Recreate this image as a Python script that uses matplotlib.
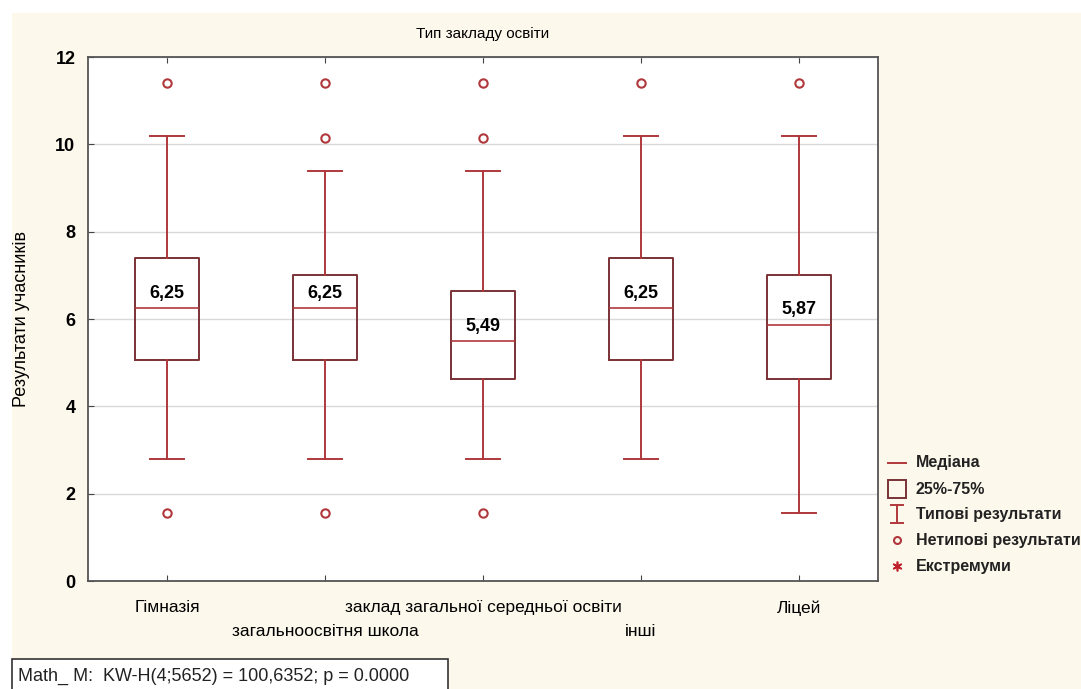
import numpy as np
import matplotlib
matplotlib.use('Agg')
import matplotlib.pyplot as plt
from matplotlib.patches import Rectangle
from matplotlib.lines import Line2D

plt.rcParams['font.family'] = ['Liberation Sans', 'DejaVu Sans']

# Дані
categories = ['Гімназія', 'загальноосвітня школа', 'заклад загальної середньої освіти', 'інші', 'Ліцей']
whis_low = [2.8, 2.8, 2.8, 2.8, 1.55]
q1 = [5.07, 5.07, 4.63, 5.07, 4.63]
medians = [6.25, 6.25, 5.49, 6.25, 5.87]
q3 = [7.4, 7.0, 6.63, 7.4, 7.0]
whis_high = [10.2, 9.4, 9.4, 10.2, 10.2]
outliers = [[11.4, 1.55], [11.4, 10.15, 1.55], [11.4, 10.15, 1.55], [11.4], [11.4]]
y_ticks = [0, 2, 4, 6, 8, 10, 12]

red = '#b0383c'
dark = '#7a3236'
cream = '#fdf8ec'

fig = plt.figure(figsize=(10.81, 6.89), dpi=100)
fig.patch.set_facecolor('white')

# фон і легенда в піксельних координатах
bg = fig.add_axes([0, 0, 1, 1])
bg.set_xlim(0, 1081)
bg.set_ylim(689, 0)
bg.axis('off')
bg.set_zorder(-1)
bg.add_patch(Rectangle((12, 13), 1081, 689, facecolor=cream, edgecolor='none'))

ax = fig.add_axes([88 / 1081, 108 / 689, 790 / 1081, 524 / 689])
ax.set_facecolor('white')

stats = []
for i in range(len(categories)):
    stats.append(dict(whislo=whis_low[i], q1=q1[i], med=medians[i], q3=q3[i],
                      whishi=whis_high[i], fliers=outliers[i]))

ax.bxp(stats, positions=range(len(categories)), widths=0.4, showfliers=True,
       boxprops=dict(color=dark, linewidth=1.4),
       whiskerprops=dict(color=red, linewidth=1.4),
       capprops=dict(color=red, linewidth=1.4),
       medianprops=dict(color=red, linewidth=1.2),
       flierprops=dict(marker='o', markerfacecolor='none', markeredgecolor=red,
                       markersize=6, markeredgewidth=1.5),
       capwidths=0.21, zorder=3)

for i, m in enumerate(medians):
    ax.text(i, m + 0.34, f'{m:.2f}'.replace('.', ','), ha='center', va='center',
            fontsize=13, fontweight='bold', zorder=4)

ax.set_xlim(-0.5, len(categories) - 0.5)
ax.set_ylim(0, 12)
ax.set_yticks(y_ticks)
ax.set_yticklabels([str(t) for t in y_ticks], fontsize=13, fontweight='bold')
ax.yaxis.grid(True, color='#d9d9d9', linewidth=1, zorder=0)
ax.set_axisbelow(True)

# підписи категорій у два ряди
ax.set_xticks(range(len(categories)))
ax.set_xticklabels([c if i % 2 == 0 else '' for i, c in enumerate(categories)], fontsize=12.5)
for i, c in enumerate(categories):
    if i % 2 == 1:
        ax.text(i, -50 / 524, c, transform=ax.get_xaxis_transform(), ha='center', va='center',
                fontsize=12.5)
ax.tick_params(axis='both', direction='in', length=4, color='#444', top=True, pad=9)
ax.tick_params(axis='x', pad=14)
for s in ax.spines.values():
    s.set_color('#555555')
    s.set_linewidth(1.3)

ax.set_title('Тип закладу освіти', fontsize=11, pad=14)
ax.set_ylabel('Результати учасників', fontsize=13)
ax.yaxis.set_label_coords(-58 / 790, 0.5)

# легенда
leg_y = [463, 489, 514, 540, 566]
leg_text = ['Медіана', '25%-75%', 'Типові результати', 'Нетипові результати', 'Екстремуми']
sx = 897
bg.add_line(Line2D([888, 906], [leg_y[0], leg_y[0]], color=red, linewidth=1.4))
bg.add_patch(Rectangle((888, leg_y[1] - 9), 18, 18, facecolor='none', edgecolor=dark, linewidth=1.4))
bg.add_line(Line2D([sx, sx], [leg_y[2] - 9, leg_y[2] + 9], color=red, linewidth=1.4))
bg.add_line(Line2D([sx - 6, sx + 6], [leg_y[2] - 9, leg_y[2] - 9], color=red, linewidth=1.4))
bg.add_line(Line2D([sx - 6, sx + 6], [leg_y[2] + 9, leg_y[2] + 9], color=red, linewidth=1.4))
bg.plot([sx], [leg_y[3]], marker='o', markerfacecolor='none', markeredgecolor=red,
        markersize=5, markeredgewidth=1.5)
bg.plot([sx], [leg_y[4]], marker=(6, 2, 0), color='#c0202a', markersize=7, markeredgewidth=1.2)
for y, t in zip(leg_y, leg_text):
    bg.text(916, y, t, ha='left', va='center', fontsize=11.5, fontweight='bold', color='#222')

# статистика Краскела-Уолліса
bg.add_patch(Rectangle((12, 659), 436, 40, facecolor='white', edgecolor='#333', linewidth=1.2))
bg.text(18, 676, 'Math_ M:  KW-H(4;5652) = 100,6352; p = 0.0000', ha='left', va='center',
        fontsize=13, color='#222')

fig.savefig('out.png', dpi=100)
